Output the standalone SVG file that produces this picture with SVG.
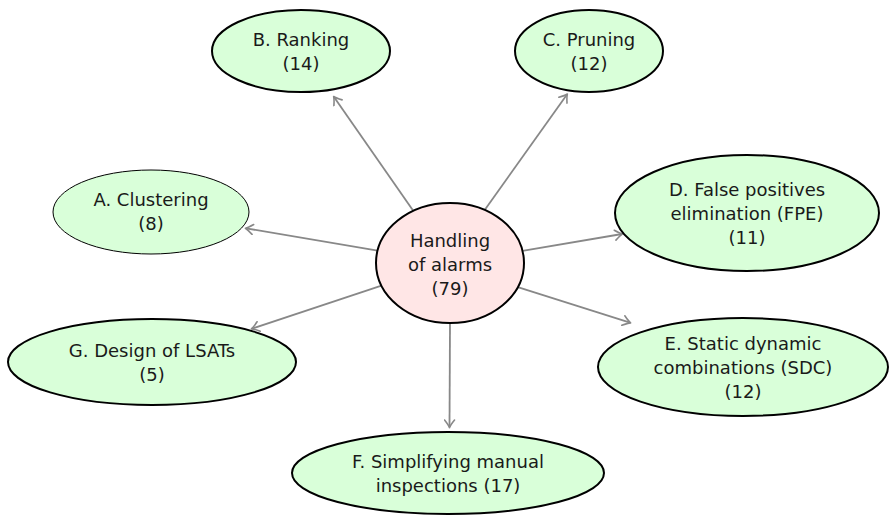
<svg xmlns="http://www.w3.org/2000/svg" width="894" height="516" viewBox="0 0 894 516">
<defs>
<style>
.node ellipse{fill:#d9ffd9;stroke:#000;stroke-width:2}
#hub ellipse{fill:#ffe6e6}
#A ellipse{stroke-width:1}
text{font-family:"DejaVu Sans",sans-serif;font-size:18px;fill:#1a1a1a;text-anchor:middle}
.edges line{stroke:#888;stroke-width:1.8;marker-end:url(#arr)}
</style>
<marker id="arr" viewBox="-8 -6 10 12" markerWidth="10" markerHeight="12" refX="0" refY="0" orient="auto" markerUnits="userSpaceOnUse">
<path d="M-7,-5 Q-2,-1 0.6,0 Q-2,1 -7,5" fill="none" stroke="#888" stroke-width="1.6" stroke-linecap="round" stroke-linejoin="round"/>
</marker>
</defs>
<g class="edges">
<line x1="413.4" y1="210.9" x2="334" y2="97"/>
<line x1="484.7" y1="210" x2="567" y2="94.5"/>
<line x1="377.6" y1="250.6" x2="246" y2="228.3"/>
<line x1="522.5" y1="250.8" x2="622" y2="234"/>
<line x1="517.8" y1="287.1" x2="630" y2="322.7"/>
<line x1="450" y1="323" x2="449.5" y2="427"/>
<line x1="381.5" y1="285.7" x2="252" y2="328.7"/>
</g>
<g id="hub" class="node"><ellipse cx="450" cy="263" rx="74" ry="60"/><text x="450" y="246.5">Handling</text><text x="450" y="270.5">of alarms</text><text x="450" y="294.5">(79)</text></g>
<g id="A" class="node"><ellipse cx="151" cy="212" rx="98" ry="42"/><text x="151" y="206">A. Clustering</text><text x="151" y="230">(8)</text></g>
<g id="B" class="node"><ellipse cx="301" cy="51" rx="89" ry="41"/><text x="301" y="45.5">B. Ranking</text><text x="301" y="69.5">(14)</text></g>
<g id="C" class="node"><ellipse cx="589" cy="51" rx="74" ry="41"/><text x="589" y="45.5">C. Pruning</text><text x="589" y="69.5">(12)</text></g>
<g id="D" class="node"><ellipse cx="747" cy="213" rx="132" ry="58"/><text x="747" y="195.5">D. False positives</text><text x="747" y="219.5">elimination (FPE)</text><text x="747" y="243.5">(11)</text></g>
<g id="E" class="node"><ellipse cx="743" cy="367" rx="145" ry="49"/><text x="743" y="349.5">E. Static dynamic</text><text x="743" y="373.5">combinations (SDC)</text><text x="743" y="397.5">(12)</text></g>
<g id="F" class="node"><ellipse cx="448" cy="473" rx="156" ry="41"/><text x="448" y="467.5">F. Simplifying manual</text><text x="448" y="491.5">inspections (17)</text></g>
<g id="G" class="node"><ellipse cx="152" cy="362" rx="144" ry="43"/><text x="152" y="356.5">G. Design of LSATs</text><text x="152" y="380.5">(5)</text></g>
</svg>
